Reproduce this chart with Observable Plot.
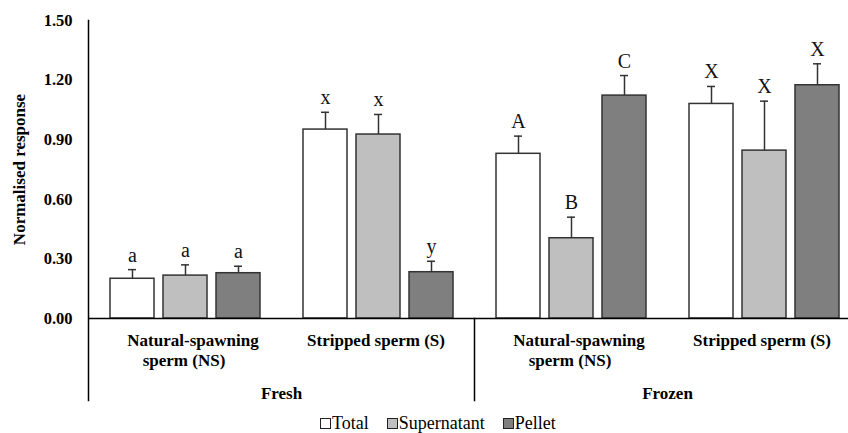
<!DOCTYPE html>
<html>
<head>
<meta charset="utf-8">
<script src="https://cdn.jsdelivr.net/npm/d3@7"></script>
<script src="https://cdn.jsdelivr.net/npm/@observablehq/plot@0.6"></script>
<style>
  html, body { margin: 0; padding: 0; background: #fff; overflow: hidden; }
  #chart { position: relative; width: 848px; height: 433px; overflow: hidden; }
  #chart svg { max-width: none !important; display: block; }
  #chart svg text { font-family: "Liberation Serif", "Times New Roman", serif !important; }
  #legend { position: absolute; left: 320px; top: 411px; height: 22px; font-family: "Liberation Serif", "Times New Roman", serif; font-size: 18px; color: #000; white-space: nowrap; line-height: 20px; padding-top: 2px; }
  #legend .item { display: inline-block; margin-right: 18px; }
  #legend .sw { display: inline-block; width: 9px; height: 9px; border: 1px solid #222; margin-right: 1px; vertical-align: 0px; }
</style>
</head>
<body>
<div id="chart"></div>
<script>
// ---- data ----
const categories = ["Fresh|NS", "Fresh|S", "Frozen|NS", "Frozen|S"];
const categoryLine1 = ["Natural-spawning", "Stripped sperm (S)", "Natural-spawning", "Stripped sperm (S)"];
const categoryLine2 = ["sperm (NS)", "", "sperm (NS)", ""];
const groupLabels = ["Fresh", "Frozen"];
const groupStartCategory = ["Fresh|NS", "Frozen|NS"];
const series = ["Total", "Supernatant", "Pellet"];
const seriesColors = ["#ffffff", "#bfbfbf", "#7f7f7f"];

const totalValues       = [0.200, 0.951, 0.829, 1.080];
const supernatantValues = [0.216, 0.926, 0.404, 0.845];
const pelletValues      = [0.228, 0.233, 1.122, 1.174];

const totalErrors       = [0.046, 0.087, 0.089, 0.088];
const supernatantErrors = [0.054, 0.101, 0.106, 0.249];
const pelletErrors      = [0.035, 0.055, 0.101, 0.108];

const totalLetters       = ["a", "x", "A", "X"];
const supernatantLetters = ["a", "x", "B", "X"];
const pelletLetters      = ["a", "y", "C", "X"];

const yTicks = [0, 0.3, 0.6, 0.9, 1.2, 1.5];
const yTitle = "Normalised response";

// ---- table ----
const valueSets = [totalValues, supernatantValues, pelletValues];
const errorSets = [totalErrors, supernatantErrors, pelletErrors];
const letterSets = [totalLetters, supernatantLetters, pelletLetters];
const rows = [];
series.forEach((s, si) => {
  categories.forEach((c, ci) => {
    rows.push({cat: c, series: s, value: valueSets[si][ci], top: valueSets[si][ci] + errorSets[si][ci], letter: letterSets[si][ci]});
  });
});
const catRows = categories.map((c, i) => ({cat: c, line1: categoryLine1[i], line2: categoryLine2[i]}));
const wrapped = catRows.filter(d => d.line2);
const single = catRows.filter(d => !d.line2);
const groupRows = groupLabels.map((g, i) => ({cat: groupStartCategory[i], label: g}));

const serif = "Liberation Serif, Times New Roman, serif";
const edge = "#333";
const bold = {fontWeight: "bold", fill: "#000", fontSize: 17};

const plot = Plot.plot({
  width: 860,
  height: 412,
  marginTop: 20,
  marginBottom: 94,
  marginLeft: 88,
  marginRight: 0,
  style: {fontFamily: serif, background: "transparent", overflow: "visible", maxWidth: "none"},
  fx: {domain: categories, padding: 0, axis: null},
  x: {domain: series, paddingInner: 0.17, paddingOuter: 0.405, axis: null},
  y: {domain: [0, 1.5]},
  color: {domain: series, range: seriesColors},
  marks: [
    Plot.barY(rows, {fx: "cat", x: "series", y: "value", fill: "series", stroke: edge, strokeWidth: 1.5}),
    Plot.ruleX(rows, {fx: "cat", x: "series", y1: "value", y2: "top", stroke: edge, strokeWidth: 1.5}),
    Plot.tickY(rows, {fx: "cat", x: "series", y: "top", stroke: edge, strokeWidth: 1.5, inset: 18}),
    Plot.text(rows, {fx: "cat", x: "series", y: "top", text: "letter", dy: -8, lineAnchor: "bottom", fontSize: 20, fill: "#111"}),
    Plot.ruleY([0], {stroke: "#000", strokeWidth: 1.5}),
    Plot.frame({anchor: "left", fx: "Fresh|NS", insetBottom: -82, stroke: "#000", strokeWidth: 1.5}),
    Plot.frame({anchor: "left", fx: "Frozen|NS", insetTop: 298, insetBottom: -82, stroke: "#000", strokeWidth: 1.5}),
    Plot.frame({anchor: "right", fx: "Frozen|S", insetTop: 298, insetBottom: -82, stroke: "#000", strokeWidth: 1.5}),
    Plot.axisY({ticks: yTicks, tickFormat: d3.format(".2f"), tickSize: 0, tickPadding: 16, fontSize: 16.5, fontWeight: "bold", label: null, fill: "#000"}),
    Plot.text([{cat: "Fresh|NS", t: yTitle}], {fx: "cat", text: "t", frameAnchor: "left", textAnchor: "middle", rotate: -90, dx: -69, ...bold}),
    Plot.text(wrapped, {fx: "cat", text: "line1", frameAnchor: "bottom", textAnchor: "middle", lineAnchor: "top", dy: 15, dx: 8, ...bold}),
    Plot.text(wrapped, {fx: "cat", text: "line2", frameAnchor: "bottom", textAnchor: "middle", lineAnchor: "top", dy: 35, dx: -1, ...bold}),
    Plot.text(single, {fx: "cat", text: "line1", frameAnchor: "bottom", textAnchor: "middle", lineAnchor: "top", dy: 15, dx: -2, ...bold}),
    Plot.text(groupRows, {fx: "cat", text: "label", frameAnchor: "bottom-right", textAnchor: "middle", lineAnchor: "top", dy: 68, ...bold})
  ]
});
document.getElementById("chart").appendChild(plot);

const legend = document.createElement("div");
legend.id = "legend";
series.forEach((s, i) => {
  const item = document.createElement("span");
  item.className = "item";
  const sw = document.createElement("span");
  sw.className = "sw";
  sw.style.background = seriesColors[i];
  item.appendChild(sw);
  item.appendChild(document.createTextNode(s));
  legend.appendChild(item);
});
document.getElementById("chart").appendChild(legend);
</script>
</body>
</html>
